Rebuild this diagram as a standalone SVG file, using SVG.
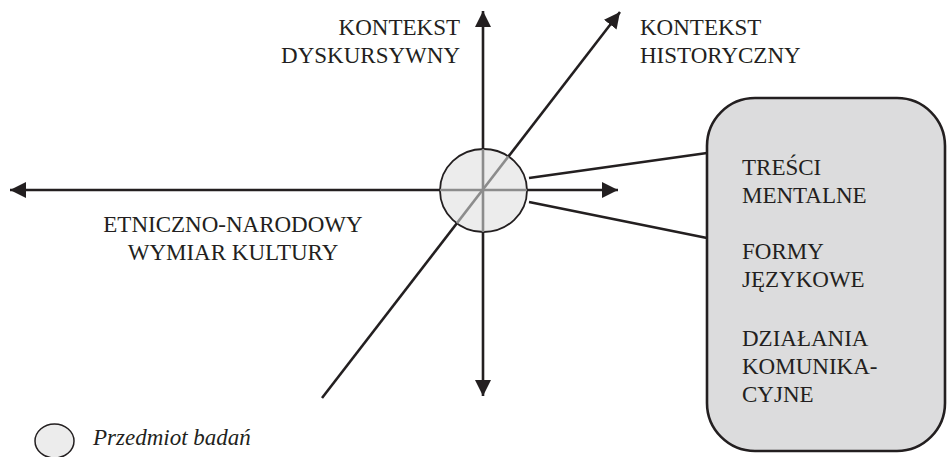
<svg xmlns="http://www.w3.org/2000/svg" width="950" height="457" viewBox="0 0 950 457">
  <style>
    .axis { stroke: #231f20; stroke-width: 2.6; fill: none; }
    .axis-in { stroke: #8c8c8c; stroke-width: 2.6; fill: none; }
    .link { stroke: #231f20; stroke-width: 2.6; fill: none; }
    .lbl { font-size: 23px; fill: #231f20; }
    .it { font-style: italic; }
  </style>
  <defs>
    <marker id="arrow" viewBox="0 0 16 16" refX="16" refY="8" markerWidth="16" markerHeight="16" markerUnits="userSpaceOnUse" orient="auto-start-reverse">
      <path d="M0,0 L16,8 L0,16 Z" fill="#231f20"/>
    </marker>
    <clipPath id="subjectClip">
      <ellipse cx="483.5" cy="190.5" rx="43.5" ry="41.5"/>
    </clipPath>
  </defs>

  <!-- axes and links -->
  <g id="connectors">
    <line class="axis" x1="483" y1="396" x2="483" y2="11" marker-start="url(#arrow)" marker-end="url(#arrow)"/>
    <line class="axis" x1="10" y1="190" x2="618" y2="190" marker-start="url(#arrow)" marker-end="url(#arrow)"/>
    <line class="axis" x1="322" y1="398" x2="620" y2="12" marker-end="url(#arrow)"/>
    <line class="link" x1="529" y1="178" x2="707" y2="153"/>
    <line class="link" x1="529" y1="202" x2="707" y2="238"/>
  </g>

  <!-- research subject at the crossing of the axes -->
  <g id="subject">
    <ellipse cx="483.5" cy="190.5" rx="43.5" ry="41.5" fill="#ececec" stroke="#231f20" stroke-width="1.8"/>
    <g clip-path="url(#subjectClip)">
      <line class="axis-in" x1="483" y1="140" x2="483" y2="240"/>
      <line class="axis-in" x1="430" y1="190" x2="540" y2="190"/>
      <line class="axis-in" x1="322" y1="398" x2="620" y2="12"/>
    </g>
  </g>

  <g font-family="Liberation Serif, serif">
    <g id="label-discursive">
      <text class="lbl" x="460" y="35" text-anchor="end">KONTEKST</text>
      <text class="lbl" x="460" y="63" text-anchor="end">DYSKURSYWNY</text>
    </g>

    <g id="label-historical">
      <text class="lbl" x="640" y="35">KONTEKST</text>
      <text class="lbl" x="640" y="63">HISTORYCZNY</text>
    </g>

    <g id="label-ethnic">
      <text class="lbl" x="233" y="232" text-anchor="middle">ETNICZNO-NARODOWY</text>
      <text class="lbl" x="233" y="260" text-anchor="middle">WYMIAR KULTURY</text>
    </g>

    <g id="aspects">
      <rect x="707" y="98" width="238" height="353" rx="48" ry="48" fill="#dcdcdd" stroke="#231f20" stroke-width="2.6"/>
      <text class="lbl" x="742" y="175">TREŚCI</text>
      <text class="lbl" x="742" y="203">MENTALNE</text>
      <text class="lbl" x="742" y="259">FORMY</text>
      <text class="lbl" x="742" y="287">JĘZYKOWE</text>
      <text class="lbl" x="742" y="346">DZIAŁANIA</text>
      <text class="lbl" x="742" y="374">KOMUNIKA-</text>
      <text class="lbl" x="742" y="402">CYJNE</text>
    </g>

    <g id="legend">
      <ellipse cx="54.5" cy="441" rx="19.5" ry="17" fill="#ececec" stroke="#231f20" stroke-width="1.5"/>
      <text class="lbl it" x="93" y="445">Przedmiot badań</text>
    </g>
  </g>
</svg>
